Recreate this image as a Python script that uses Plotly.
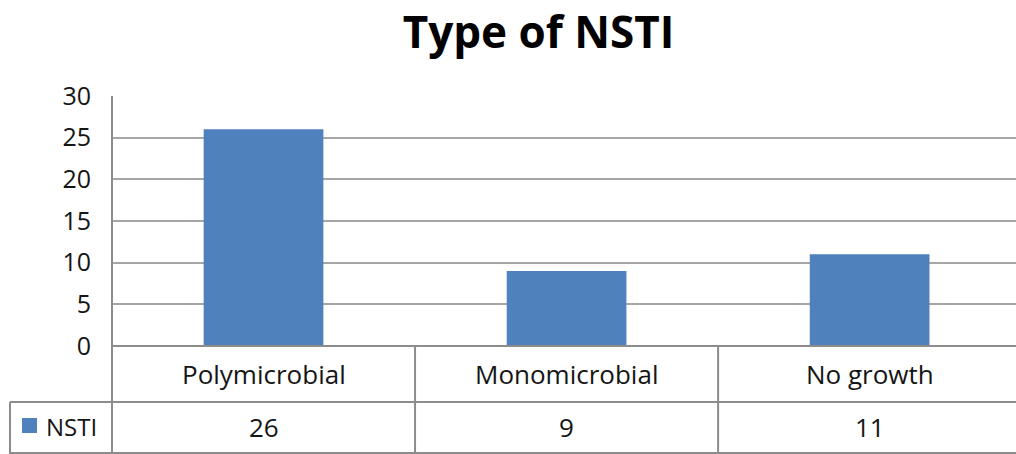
import plotly.graph_objects as go

categories = ["Polymicrobial", "Monomicrobial", "No growth"]
values = [26, 9, 11]
series_name = "NSTI"
title = "Type of NSTI"
y_ticks = [0, 5, 10, 15, 20, 25, 30]

BLUE = "#4F81BD"
GRID = "#A6A6A6"
LINE = "#8C8C8C"
FONT = "Open Sans, sans-serif"
TXT = "#151515"

W, H = 1016, 454
ml, mr, mt, mb = 112, 0, 96, 108
ph = H - mt - mb
pw = W - ml - mr

def py(pix):
    return (H - mb - pix) / ph

def px(pix):
    return (pix - ml) / pw

fig = go.Figure()
fig.add_trace(go.Bar(x=list(range(len(categories))), y=values, name=series_name,
                     marker=dict(color=BLUE, line=dict(width=0)), width=0.395,
                     showlegend=False, hoverinfo="skip"))

shapes = []
shapes.append(dict(type="line", xref="paper", yref="paper", x0=0, x1=1, y0=0, y1=0,
                   line=dict(color=LINE, width=2)))
shapes.append(dict(type="line", xref="paper", yref="paper", x0=px(10), x1=1,
                   y0=py(402), y1=py(402), line=dict(color=LINE, width=2)))
shapes.append(dict(type="line", xref="paper", yref="paper", x0=px(10), x1=1,
                   y0=py(453), y1=py(453), line=dict(color=LINE, width=2)))
shapes.append(dict(type="line", xref="paper", yref="paper", x0=0, x1=0, y0=1, y1=py(454),
                   line=dict(color=LINE, width=2)))
shapes.append(dict(type="line", xref="paper", yref="paper", x0=px(10), x1=px(10),
                   y0=py(402), y1=py(454), line=dict(color=LINE, width=2)))
for i in range(len(categories) - 1):
    shapes.append(dict(type="line", xref="x", yref="paper", x0=i + 0.5, x1=i + 0.5,
                       y0=0, y1=py(454), line=dict(color=LINE, width=2)))
shapes.append(dict(type="rect", xref="paper", yref="paper",
                   x0=px(22), x1=px(37), y0=py(433), y1=py(418),
                   fillcolor=BLUE, line=dict(width=0)))

annotations = []
for i, (c, v) in enumerate(zip(categories, values)):
    annotations.append(dict(x=i, y=py(374), xref="x", yref="paper", text=c, showarrow=False,
                            font=dict(family=FONT, size=26, color=TXT), yanchor="middle"))
    annotations.append(dict(x=i, y=py(427), xref="x", yref="paper", text=str(v), showarrow=False,
                            font=dict(family=FONT, size=26, color=TXT), yanchor="middle"))
annotations.append(dict(x=px(44), y=py(426), xref="paper", yref="paper",
                        text=series_name, showarrow=False, xanchor="left", yanchor="middle",
                        font=dict(family=FONT, size=24, color=TXT)))

fig.update_layout(
    width=W, height=H,
    margin=dict(l=ml, r=mr, t=mt, b=mb, pad=0),
    paper_bgcolor="white", plot_bgcolor="white",
    title=dict(text=f"<b>{title}</b>", x=0.530, xanchor="center", y=0.928, yanchor="middle",
               font=dict(family=FONT, size=44, color="black")),
    xaxis=dict(range=[-0.5, 2.483], showticklabels=False, showgrid=False, zeroline=False,
               showline=False, fixedrange=True),
    yaxis=dict(range=[0, 30], tickvals=y_ticks, showgrid=True, gridcolor=GRID, gridwidth=2,
               zeroline=False, showline=False, ticks="", ticklabelstandoff=20,
               tickfont=dict(family=FONT, size=25, color=TXT), fixedrange=True),
    shapes=shapes, annotations=annotations, bargap=0.6,
)

fig.write_html("out.html", config={"displayModeBar": False},
               post_script="document.body.style.margin='0';")
